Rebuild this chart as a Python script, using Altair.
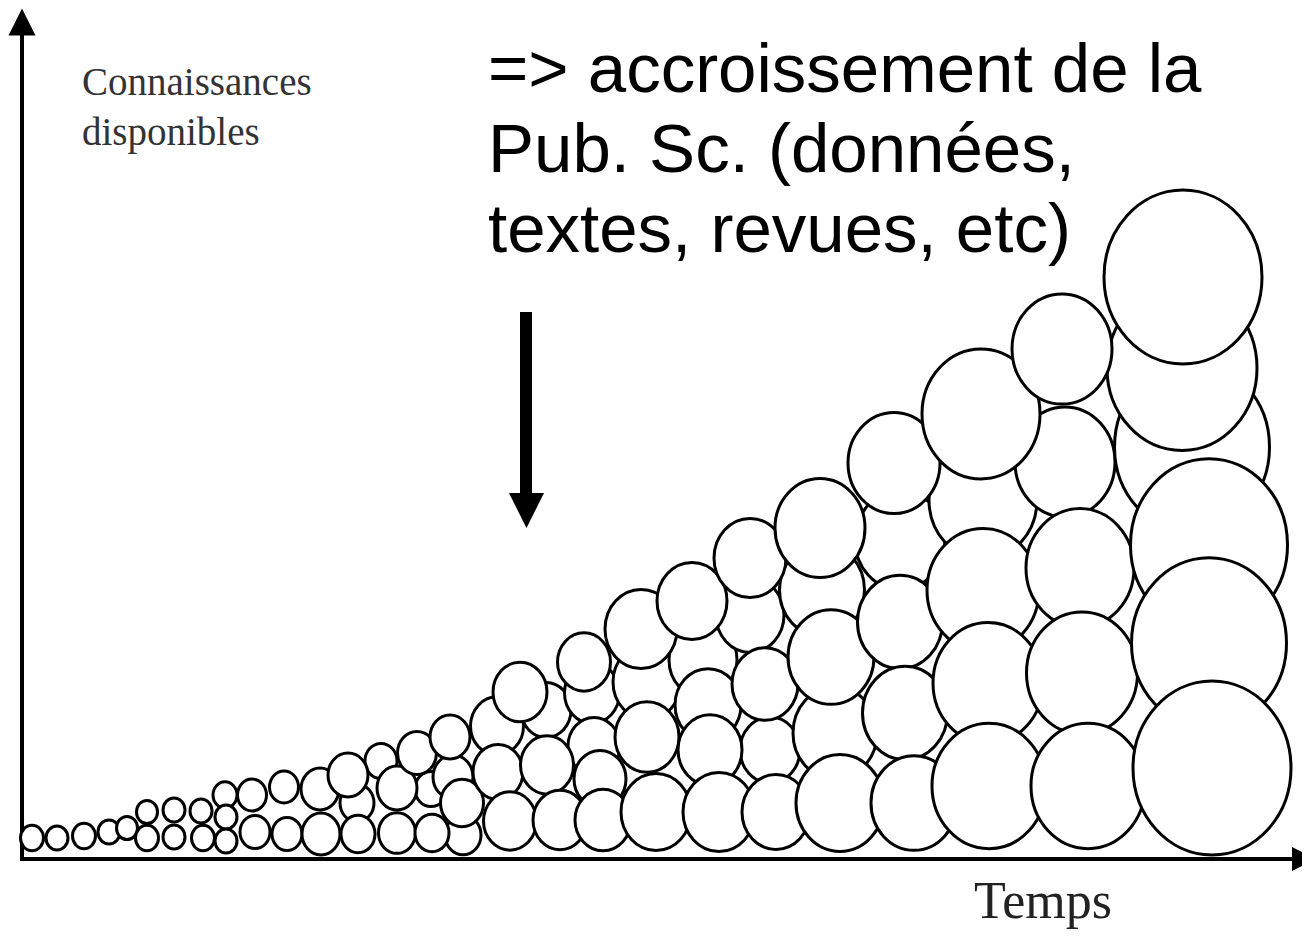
import altair as alt
import pandas as pd

# ---- circles (image pixel coordinates): centre x, centre y, width ----
# drawn in list order: partly hidden ones first, then the visible rows
hid_x = [357, 381, 431, 453, 463, 546, 592, 594, 647, 703, 750, 770, 822, 835, 900, 983, 1065, 1192, 1182]
hid_y = [803, 761, 789, 777, 835, 710, 693, 746, 682, 660, 615, 750, 590, 733, 540, 500, 462, 447, 368]
hid_w = [34, 32, 32, 40, 36, 50, 55, 52, 68, 68, 68, 60, 85, 84, 90, 108, 100, 155, 150]

small_x = [32, 57, 84, 109, 127, 147, 147, 174, 174, 201, 203, 225, 226, 226, 252, 255, 284, 287, 320, 321]
small_y = [838, 838, 836, 832, 828, 812, 838, 810, 837, 811, 838, 795, 817, 841, 795, 832, 787, 834, 789, 834]
small_w = [23, 22, 23, 22, 21, 21, 23, 22, 22, 22, 23, 24, 22, 22, 29, 30, 29, 30, 38, 38]

mid_x = [348, 358, 397, 397, 417, 432, 450, 462, 497, 498, 547, 600, 647, 708, 710, 765, 831, 900, 905, 983, 988, 1080, 1082, 1209, 1209]
mid_y = [775, 834, 788, 833, 753, 833, 737, 803, 726, 772, 765, 779, 737, 705, 750, 684, 657, 622, 713, 590, 683, 568, 673, 545, 643]
mid_w = [40, 34, 40, 37, 39, 34, 40, 43, 53, 50, 53, 52, 64, 66, 64, 66, 86, 85, 85, 112, 110, 108, 111, 157, 155]

bot_x = [510, 560, 603, 656, 719, 776, 840, 914, 989, 1088, 1212]
bot_y = [821, 820, 820, 812, 812, 812, 803, 803, 786, 786, 768]
bot_w = [53, 54, 56, 70, 72, 68, 88, 86, 114, 114, 158]

top_x = [520, 584, 641, 692, 750, 820, 894, 981, 1062, 1183]
top_y = [692, 662, 629, 601, 558, 528, 463, 414, 349, 277]
top_w = [54, 53, 72, 70, 72, 90, 92, 118, 100, 158]

# ---- texts ----
ylab_lines = ["Connaissances", "disponibles"]
ylab_x = [82, 82]
ylab_y = [95, 145]
xlab = ["Temps"]
xlab_x = [974]
xlab_y = [918]
note_lines = ["=> accroissement de la", "Pub. Sc. (données,", "textes, revues, etc)"]
note_x = [488, 488, 488]
note_y = [92, 172, 252]

# ---- build tables ----
cx = hid_x + small_x + mid_x + bot_x + top_x
cy = hid_y + small_y + mid_y + bot_y + top_y
cw = hid_w + small_w + mid_w + bot_w + top_w
circles = pd.DataFrame({"x": cx, "y": cy, "s": [w * w for w in cw], "o": list(range(len(cx)))})

ASPECT = 1.1
k = 0.5523
h = ASPECT
ellipse = (f"M1,0 C1,{k*h:.4f} {k},{h} 0,{h} C{-k},{h} -1,{k*h:.4f} -1,0 "
           f"C-1,{-k*h:.4f} {-k},{-h} 0,{-h} C{k},{-h} 1,{-k*h:.4f} 1,0 Z")

xs = alt.Scale(domain=[8, 1302], nice=False, zero=False)
ys = alt.Scale(domain=[8, 929], reverse=True, nice=False, zero=False)
X = lambda f: alt.X(f, type="quantitative", scale=xs, axis=None)
Y = lambda f: alt.Y(f, type="quantitative", scale=ys, axis=None)

circ = alt.Chart(circles).mark_point(
    shape=ellipse, filled=False, fill="white", fillOpacity=1, stroke="black",
    strokeWidth=3, opacity=1
).encode(x=X("x"), y=Y("y"), size=alt.Size("s:Q", scale=None), order=alt.Order("o:Q"))

axes = pd.DataFrame({"x": [22, 20], "y": [32, 859], "x2": [22, 1298], "y2": [859, 859]})
axis_lines = alt.Chart(axes).mark_rule(color="black", strokeWidth=4).encode(
    x=X("x"), y=Y("y"), x2="x2:Q", y2="y2:Q")

tri_up = "M0,-1 L1,1 L-1,1 Z"
tri_right = "M1,0 L-1,1 L-1,-1 Z"
tri_down = "M-1,-1 L1,-1 L0,1 Z"
heads = pd.DataFrame({"x": [22], "y": [22]})
head_up = alt.Chart(heads).mark_point(shape=tri_up, filled=True, color="black", opacity=1, size=27 * 27).encode(
    x=X("x"), y=Y("y"))
headsr = pd.DataFrame({"x": [1304], "y": [859]})
head_right = alt.Chart(headsr).mark_point(shape=tri_right, filled=True, color="black", opacity=1, size=24 * 24).encode(
    x=X("x"), y=Y("y"))

shaft = pd.DataFrame({"x": [526], "y": [312], "y2": [496]})
arrow_shaft = alt.Chart(shaft).mark_rule(color="black", strokeWidth=12, strokeCap="butt").encode(
    x=X("x"), y=Y("y"), y2="y2:Q")
arrowhead = pd.DataFrame({"x": [526.5], "y": [510.5]})
arrow_head = alt.Chart(arrowhead).mark_point(shape=tri_down, filled=True, color="black", opacity=1, size=35 * 35).encode(
    x=X("x"), y=Y("y"))

ylab_df = pd.DataFrame({"t": ylab_lines, "x": ylab_x, "y": ylab_y})
ylab_t = alt.Chart(ylab_df).mark_text(font="Liberation Serif", fontSize=39, color="#333333",
                                      align="left", baseline="alphabetic").encode(
    x=X("x"), y=Y("y"), text="t:N")
xlab_df = pd.DataFrame({"t": xlab, "x": xlab_x, "y": xlab_y})
xlab_t = alt.Chart(xlab_df).mark_text(font="Liberation Serif", fontSize=52, color="#222222",
                                      align="left", baseline="alphabetic").encode(
    x=X("x"), y=Y("y"), text="t:N")
note_df = pd.DataFrame({"t": note_lines, "x": note_x, "y": note_y})
note_t = alt.Chart(note_df).mark_text(font="Liberation Sans", fontSize=69, color="black",
                                      align="left", baseline="alphabetic").encode(
    x=X("x"), y=Y("y"), text="t:N")

chart = alt.layer(
    axis_lines, head_up, head_right, circ, arrow_shaft, arrow_head, ylab_t, xlab_t, note_t
).properties(width=1294, height=921, padding=0, autosize="none", background="white"
).configure_view(stroke=None)

chart.save("out.html", embed_options={"renderer": "svg", "actions": False})
